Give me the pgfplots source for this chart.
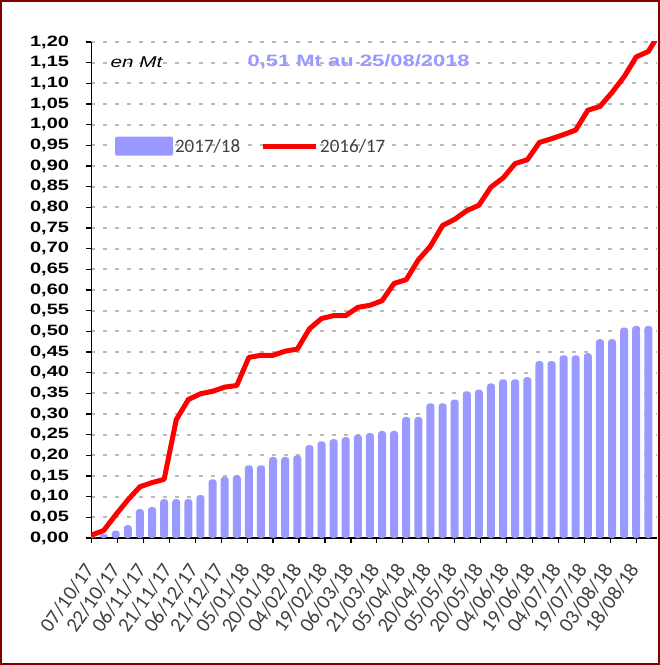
\documentclass[border=0pt]{standalone}
\usepackage{pgfplots}
\pgfplotsset{compat=1.18}
\usepackage{pgfplotstable}
\usepackage{fontspec}
\setmainfont{Liberation Sans}[FakeStretch=1.33]
\newfontfamily\lightfont{Carlito}
\definecolor{barblue}{HTML}{9999FF}
\definecolor{framered}{HTML}{800000}
\definecolor{labgray}{HTML}{404040}

\pgfplotstableread{
d v
0 0.005
7 0.010
14 0.018
21 0.031
28 0.070
35 0.075
42 0.094
49 0.094
56 0.094
63 0.104
70 0.142
77 0.148
84 0.152
91 0.176
98 0.176
105 0.196
112 0.196
119 0.200
126 0.225
133 0.234
140 0.239
147 0.244
154 0.250
161 0.254
168 0.259
175 0.259
182 0.293
189 0.293
196 0.326
203 0.326
210 0.335
217 0.355
224 0.359
231 0.374
238 0.384
245 0.384
252 0.389
259 0.428
266 0.428
273 0.442
280 0.442
287 0.447
294 0.481
301 0.481
308 0.509
315 0.513
322 0.513
}\cur

\pgfplotstableread{
d v
0 0.007
7 0.018
14 0.056
21 0.092
28 0.124
35 0.134
42 0.142
49 0.286
56 0.335
63 0.349
70 0.355
77 0.365
84 0.369
91 0.437
98 0.442
105 0.442
112 0.452
119 0.457
126 0.506
133 0.531
140 0.538
147 0.538
154 0.558
161 0.563
168 0.574
175 0.616
182 0.625
189 0.673
196 0.706
203 0.756
210 0.771
217 0.792
224 0.805
231 0.849
238 0.871
245 0.906
252 0.915
259 0.957
266 0.966
273 0.976
280 0.987
287 1.035
294 1.044
301 1.078
308 1.116
315 1.164
322 1.177
329 1.225
}\prev

\begin{document}
\begin{tikzpicture}
\path[use as bounding box] (-91.5pt,-127pt) rectangle (568.5pt,538pt);
\begin{axis}[
  at={(0pt,0pt)}, anchor=south west,
  scale only axis, width=565.5pt, height=496pt,
  xmin=0, xmax=327, ymin=0, ymax=1.2,
  axis lines*=left,
  axis line style={black, line width=1.6pt},
  xtick={0,15,...,315},
  xticklabels={07/10/17,22/10/17,06/11/17,21/11/17,06/12/17,21/12/17,05/01/18,20/01/18,04/02/18,19/02/18,06/03/18,21/03/18,05/04/18,20/04/18,05/05/18,20/05/18,04/06/18,19/06/18,04/07/18,19/07/18,03/08/18,18/08/18},
  ytick distance=0.05,
  tick align=outside, major tick length=5pt,
  tick style={black, line width=1.2pt},
  ymajorgrids,
  grid style={black!27, line width=2pt, dash pattern=on 4pt off 8pt},
  y tick label style={font=\bfseries\fontsize{15}{15}\selectfont,
     /pgf/number format/.cd, fixed, fixed zerofill, precision=2, use comma, assume math mode=true},
  yticklabel shift=14pt,
  x tick label style={font=\lightfont\fontsize{20.5}{20.5}\selectfont, text=labgray, rotate=55, anchor=east},
  xticklabel shift=20pt,
  legend columns=2,
  legend style={draw=none, fill=none, at={(axis cs:11.8,0.948)}, anchor=west,
     font=\lightfont\fontsize{19}{19}\selectfont, text=labgray,
     /tikz/every even column/.append style={column sep=18pt}},
  legend cell align=left,
]
\addplot[ybar, bar width=8pt, fill=barblue, draw=none, rounded corners=3pt,
  legend image code/.code={\fill[barblue, rounded corners=2pt] (0pt,-9.5pt) rectangle (58pt,9.5pt);}]
  table[x=d, y=v] {\cur};
\addlegendentry{2017/18}
\addplot[red, line width=5pt, line join=round,
  legend image code/.code={\draw[red, line width=5pt] (0pt,0pt) -- (53pt,0pt);}]
  table[x=d, y=v] {\prev};
\addlegendentry{2016/17}
\node[font=\itshape\fontsize{15.6}{15.6}\selectfont, anchor=west] at (axis cs:9,1.152) {en Mt};
\node[font=\bfseries\fontsize{16.5}{16.5}\selectfont, text=barblue] at (axis cs:154.5,1.152) {0,51 Mt au 25/08/2018};
\end{axis}
\draw[framered, line width=2pt] (-90.5pt,-126pt) rectangle (567.5pt,537pt);
\end{tikzpicture}
\end{document}
